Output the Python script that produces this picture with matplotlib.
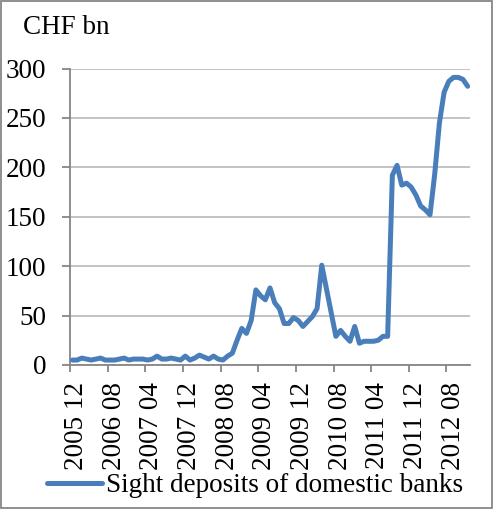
import numpy as np
import matplotlib
matplotlib.use("Agg")
import matplotlib.pyplot as plt
from matplotlib.patches import Rectangle

# monthly sight deposits of domestic banks, CHF bn, 2005-12 .. 2012-12
values = [5, 5, 7, 6, 5, 6, 7, 5, 5, 5, 6, 7, 5, 6, 6, 6,
          5, 6, 9, 6, 6, 7, 6, 5, 9, 5, 7, 10, 8, 6, 9, 6,
          5, 9, 12, 25, 37, 32, 45, 76, 70, 66, 78, 63, 57, 42, 42, 48,
          45, 39, 44, 49, 57, 101, 77, 53, 29, 35, 29, 24, 39, 22, 24, 24,
          24, 25, 29, 29, 192, 202, 182, 184, 180, 172, 161, 157, 152, 193, 245, 276,
          287, 291, 291, 289, 282]
tick_labels = ['2005 12', '2006 08', '2007 04', '2007 12', '2008 08', '2009 04',
               '2009 12', '2010 08', '2011 04', '2011 12', '2012 08']
series_name = 'Sight deposits of domestic banks'
y_ticks = [0, 50, 100, 150, 200, 250, 300]

plt.rcParams['font.family'] = ['Liberation Serif', 'DejaVu Serif']
fs = 19.5

fig = plt.figure(figsize=(4.93, 5.09), dpi=100)
ax = fig.add_axes([70/493, 1-365/509, 400/493, 296.5/509])

x = np.arange(len(values))
ax.plot(x, values, color='#4A7EBB', lw=3.6, solid_capstyle='round',
        solid_joinstyle='round', label=series_name, zorder=3)

ax.set_xlim(-0.5, len(values) - 0.5)
ax.set_ylim(0, 300)
ax.set_yticks(y_ticks)
ax.grid(axis='y', color='#BEBEBE', lw=1.3)
ax.set_axisbelow(True)

for s in ['top', 'right']:
    ax.spines[s].set_visible(False)
for s in ['left', 'bottom']:
    ax.spines[s].set_color('#868686')
    ax.spines[s].set_linewidth(1.3)

# tick marks between categories, labels on categories
ax.set_xticks(np.arange(0, len(values), 8) - 0.5, minor=True)
ax.set_xticks(np.arange(0, len(values), 8) + 0.9)
ax.set_xticklabels(tick_labels, rotation=90, fontsize=fs)
ax.tick_params(axis='x', which='major', length=0, pad=12)
ax.tick_params(axis='x', which='minor', length=5, width=1.3, color='#868686')
ax.tick_params(axis='y', length=6, width=1.3, color='#868686', pad=11, labelsize=fs)

fig.text(23/493, 1-28/509, 'CHF bn', fontsize=fs, va='center', ha='left')

fig.legend(loc='center', bbox_to_anchor=(255/493, 1-486/509), frameon=False,
           fontsize=fs, handlelength=2.05, handletextpad=0.15)

fig.patches.append(Rectangle((0.002, 0.002), 0.996, 0.996, transform=fig.transFigure,
                             fill=False, edgecolor='#868686', lw=1.3))

fig.savefig('out.png', dpi=100)
